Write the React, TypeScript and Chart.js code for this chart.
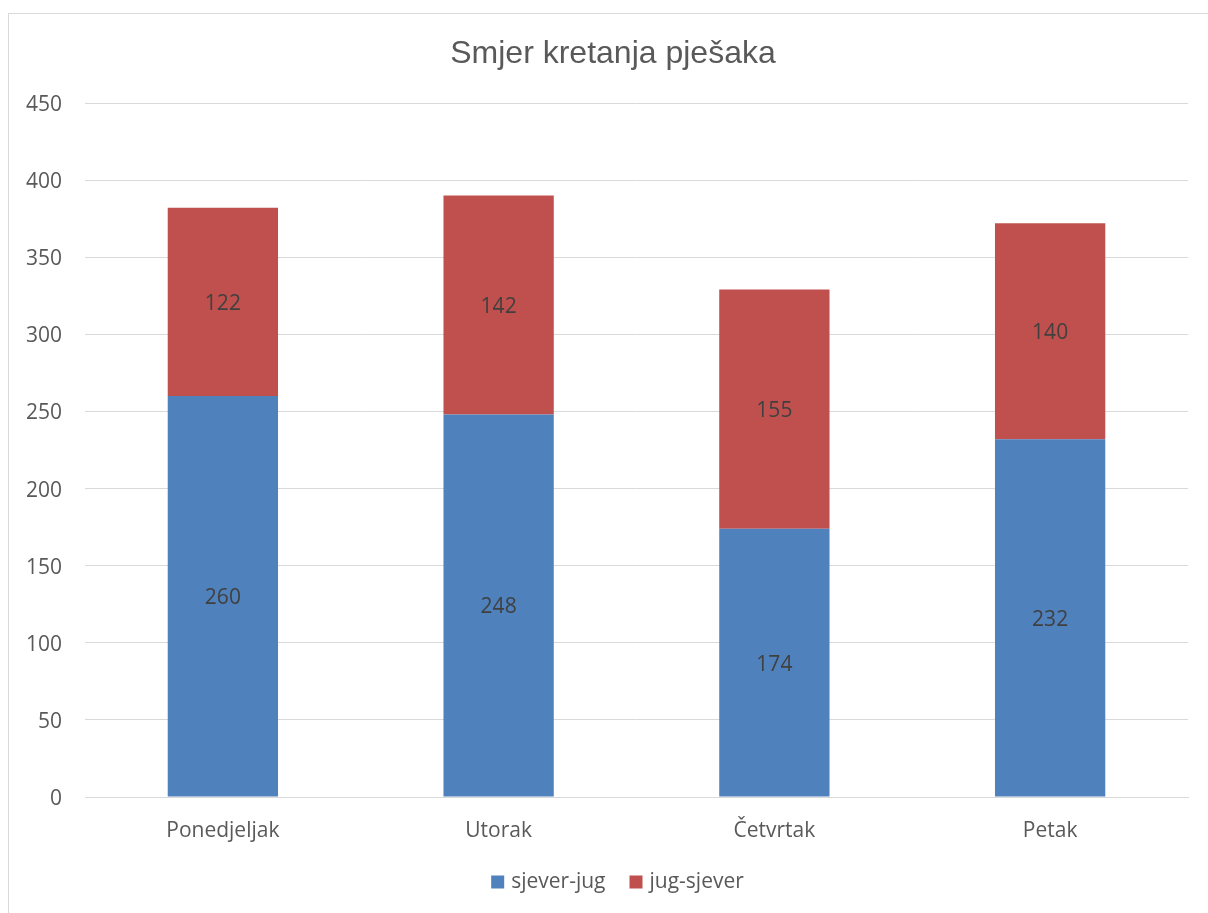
import React, { useEffect, useRef } from "react";
import { Chart, registerables } from "chart.js";

Chart.register(...registerables);

const categories = ["Ponedjeljak", "Utorak", "Četvrtak", "Petak"];
const sjeverJug = [260, 248, 174, 232];
const jugSjever = [122, 142, 155, 140];
const seriesNames = ["sjever-jug", "jug-sjever"];
const seriesColors = ["#4F81BD", "#C0504D"];
const titleText = "Smjer kretanja pješaka";

const FONT = "'Open Sans', 'Noto Sans', sans-serif";
const TITLE_FONT = "'Liberation Sans', Arial, sans-serif";

const dataLabelPlugin = {
  id: "dataLabels",
  afterDatasetsDraw(chart: any) {
    const ctx = chart.ctx;
    ctx.save();
    ctx.font = `21px ${FONT}`;
    ctx.fillStyle = "#404040";
    ctx.textAlign = "center";
    ctx.textBaseline = "middle";
    chart.data.datasets.forEach((ds: any, di: number) => {
      const meta = chart.getDatasetMeta(di);
      meta.data.forEach((bar: any, i: number) => {
        const p = bar.getProps(["x", "y", "base"], true);
        const cy = (p.y + p.base) / 2 + 2;
        ctx.fillText(String(ds.data[i]), p.x, cy);
      });
    });
    ctx.restore();
  },
};

// Title and legend centred on the whole chart box (as in the original), not the padded layout box
const titleLegendPlugin = {
  id: "titleLegend",
  afterDraw(chart: any) {
    const ctx = chart.ctx;
    const boxCenter = 604; // centre of the outer chart frame in canvas coordinates
    ctx.save();
    // title
    ctx.font = `32px ${TITLE_FONT}`;
    ctx.fillStyle = "#595959";
    ctx.textAlign = "center";
    ctx.textBaseline = "alphabetic";
    ctx.fillText(titleText, boxCenter, 49);
    // legend
    ctx.font = `21px ${FONT}`;
    const box = 13;
    const gapBoxText = 7;
    const gapItems = 24;
    const items = chart.data.datasets.map((ds: any) => ({
      label: ds.label,
      color: ds.backgroundColor,
      w: ctx.measureText(ds.label).width,
    }));
    const total =
      items.reduce((s: number, it: any) => s + box + gapBoxText + it.w, 0) + gapItems * (items.length - 1);
    let x = boxCenter + 4.5 - total / 2;
    const cy = 868;
    ctx.textAlign = "left";
    ctx.textBaseline = "middle";
    items.forEach((it: any) => {
      ctx.fillStyle = it.color;
      ctx.fillRect(x, cy - box / 2, box, box);
      x += box + gapBoxText;
      ctx.fillStyle = "#595959";
      ctx.fillText(it.label, x, cy);
      x += it.w + gapItems;
    });
    ctx.restore();
  },
};

export default function App() {
  const ref = useRef<HTMLCanvasElement | null>(null);
  useEffect(() => {
    if (!ref.current) return;
    const chart = new Chart(ref.current, {
      type: "bar",
      data: {
        labels: categories,
        datasets: [
          {
            label: seriesNames[0],
            data: sjeverJug,
            backgroundColor: seriesColors[0],
            categoryPercentage: 1,
            barPercentage: 0.4,
          },
          {
            label: seriesNames[1],
            data: jugSjever,
            backgroundColor: seriesColors[1],
            categoryPercentage: 1,
            barPercentage: 0.4,
          },
        ],
      },
      options: {
        responsive: false,
        animation: false,
        devicePixelRatio: 1,
        layout: { padding: { left: 0, right: 20, top: 89, bottom: 0 } },
        plugins: {
          title: { display: false },
          legend: { display: false },
          tooltip: { enabled: false },
        },
        scales: {
          x: {
            stacked: true,
            grid: { display: false, drawTicks: false },
            border: { display: true, color: "#d9d9d9", width: 1 },
            ticks: {
              color: "#595959",
              font: { family: FONT, size: 21 },
              padding: 21,
              maxRotation: 0,
            },
            afterFit: (scale: any) => {
              scale.height = 117;
            },
          },
          y: {
            stacked: true,
            min: 0,
            max: 450,
            grid: { color: "#d9d9d9", lineWidth: 1, drawTicks: false },
            border: { display: false },
            ticks: {
              stepSize: 50,
              color: "#595959",
              font: { family: FONT, size: 21 },
              padding: 23,
              labelOffset: 2,
            },
            afterFit: (scale: any) => {
              scale.width = 76;
            },
          },
        },
      },
      plugins: [dataLabelPlugin, titleLegendPlugin],
    });
    return () => chart.destroy();
  }, []);

  return (
    <div style={{ position: "fixed", left: 0, top: 0, width: "100vw", height: "100vh", overflow: "hidden", background: "#fff" }}>
      <div
        style={{
          position: "absolute",
          left: 8,
          top: 13,
          width: 1240,
          height: 940,
          border: "1px solid #d9d9d9",
          boxSizing: "border-box",
        }}
      >
        <canvas ref={ref} width={1199} height={900} style={{ display: "block", width: 1199, height: 900 }} />
      </div>
    </div>
  );
}
